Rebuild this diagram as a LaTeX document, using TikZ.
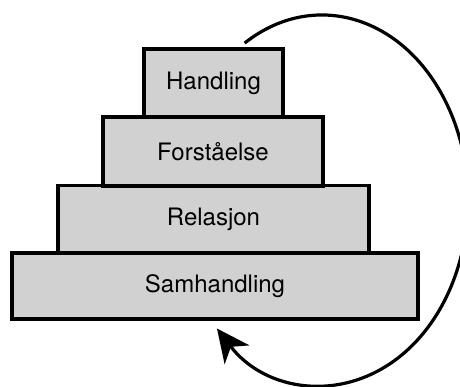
\documentclass[tikz,border=0pt]{standalone}
\usepackage{fontspec}
\setmainfont{TeX Gyre Heros}
\usetikzlibrary{arrows.meta}

\begin{document}
\begin{tikzpicture}[x=1pt,y=-1pt,
    trinn/.style={draw,line width=3.4pt,fill=black!18,inner sep=0pt,
      font=\fontsize{24}{28}\selectfont}]
  \pgfmathsetmacro{\cx}{322}\pgfmathsetmacro{\cy}{200}
  \pgfmathsetmacro{\rx}{146}\pgfmathsetmacro{\ry}{185}
  \useasboundingbox (0,0) rectangle (460,387);
  \clip (0,0) rectangle (460,387);

  % ---- the four steps, widest at the bottom ------------------------------
  \node[trinn,minimum width=406pt,minimum height=66pt] (samhandling) at (215,286) {Samhandling};
  \node[trinn,minimum width=311pt,minimum height=67pt] (relasjon)    at (213.5,219) {Relasjon};
  \node[trinn,minimum width=220pt,minimum height=69pt] (forstaelse)  at (213,151.5) {Forståelse};
  \node[trinn,minimum width=139pt,minimum height=68pt] (handling)    at (213.5,83) {Handling};

  % ---- loop from the top step round to the base ---------------------------
  \coordinate (loopstart) at ({\cx+\rx*cos(238)},{\cy+\ry*sin(238)});
  \draw[-{Stealth[length=33pt,width=31pt,inset=10pt]},line width=3.2pt]
        (loopstart) arc (238:496:{\rx} and {\ry});
\end{tikzpicture}
\end{document}
